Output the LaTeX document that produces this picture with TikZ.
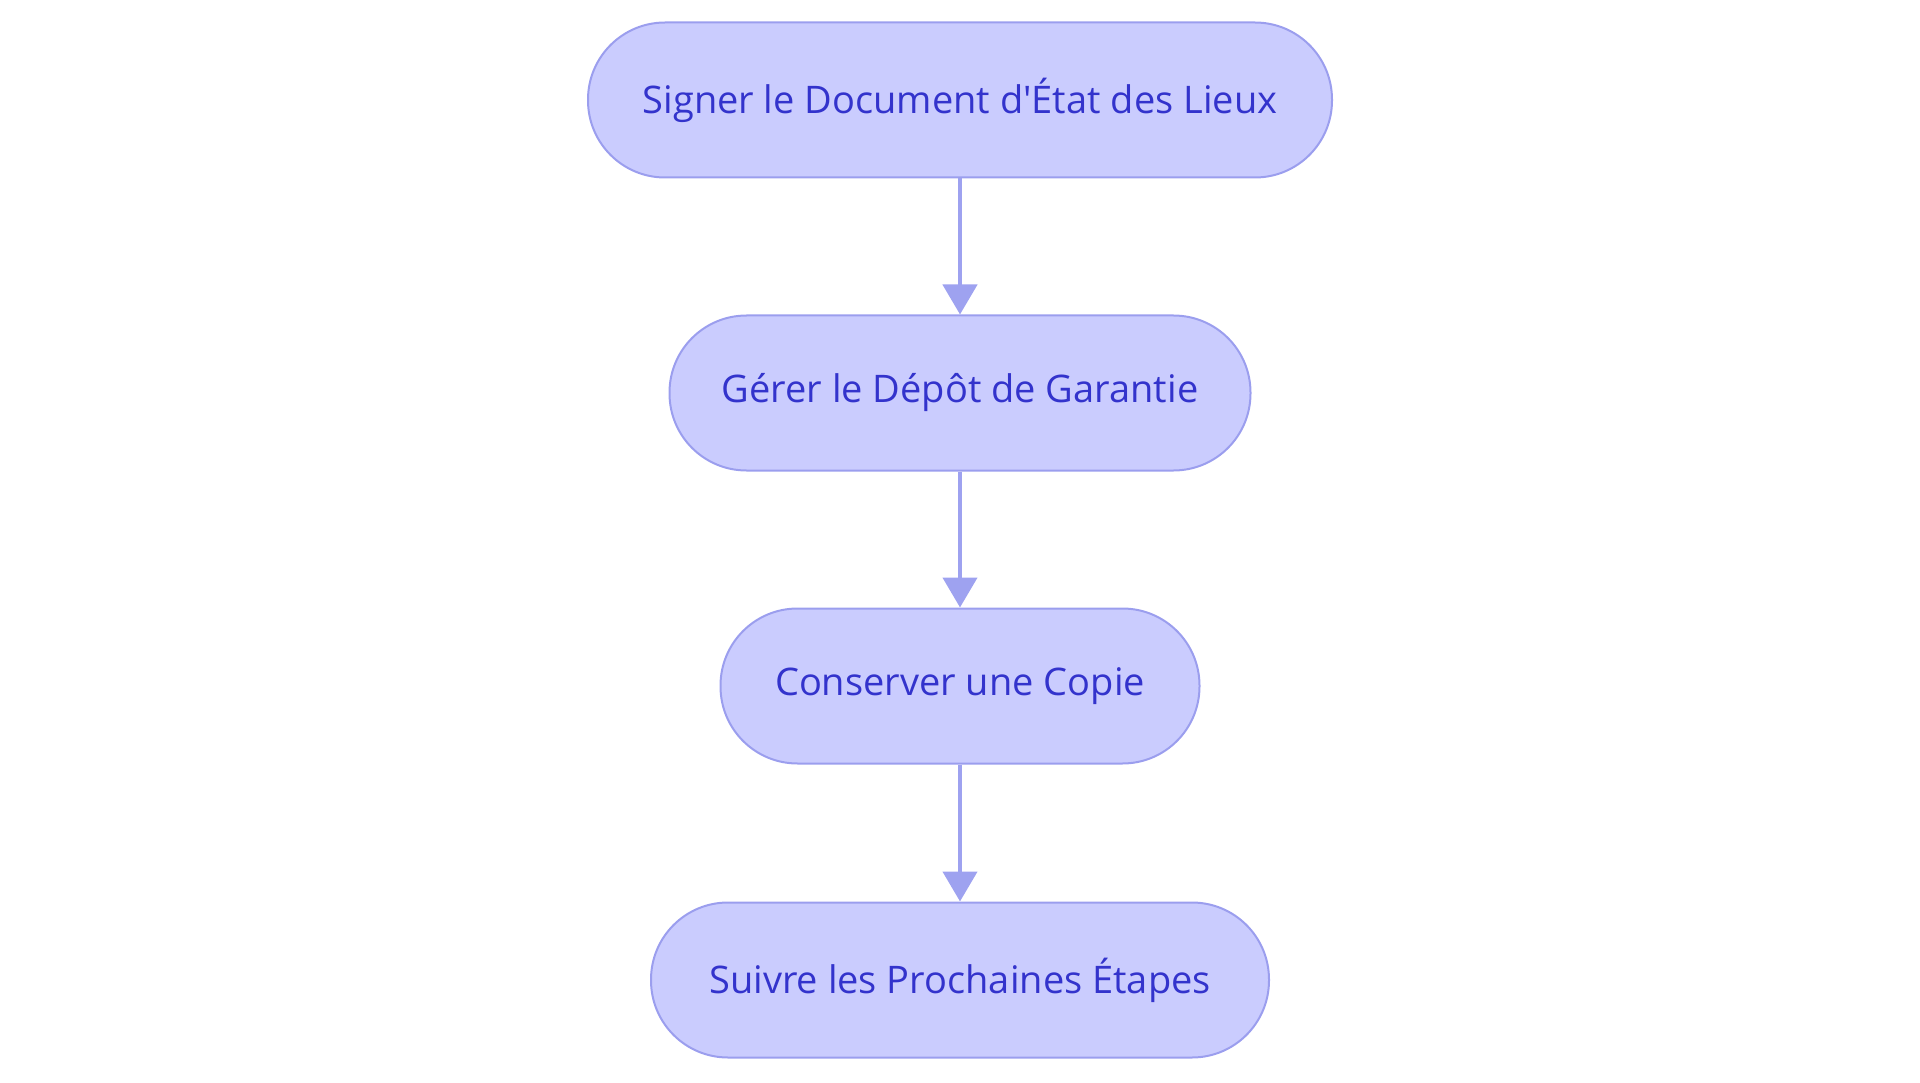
\documentclass[tikz,border=0pt]{standalone}
\usepackage{fontspec}
\setmainfont{Open Sans}
\usetikzlibrary{arrows.meta}
\definecolor{nodefill}{HTML}{CACCFE}
\definecolor{nodeline}{HTML}{9B9EEE}
\definecolor{nodetext}{HTML}{3333CC}
\definecolor{arrowcol}{HTML}{9EA2F0}
\begin{document}
\begin{tikzpicture}[x=1pt,y=-1pt,
  stepbox/.style={draw=nodeline, fill=nodefill, line width=2pt, rounded corners=77pt,
    minimum height=155pt, inner sep=0pt, text=nodetext, font=\fontsize{38}{45}\selectfont},
  conn/.style={draw=arrowcol, line width=4.5pt, -{Triangle[width=34pt,length=30pt]}}]
\useasboundingbox (0,0) rectangle (1920,1083);
\node[stepbox, minimum width=744pt] (a) at (960,100) {Signer le Document d\textquotesingle État des Lieux};
\node[stepbox, minimum width=581pt] (b) at (960,393) {Gérer le Dépôt de Garantie};
\node[stepbox, minimum width=479pt] (c) at (960,686) {Conserver une Copie};
\node[stepbox, minimum width=618pt] (d) at (960,980) {Suivre les Prochaines Étapes};
\draw[conn] (a) -- (b);
\draw[conn] (b) -- (c);
\draw[conn] (c) -- (d);
\end{tikzpicture}
\end{document}
